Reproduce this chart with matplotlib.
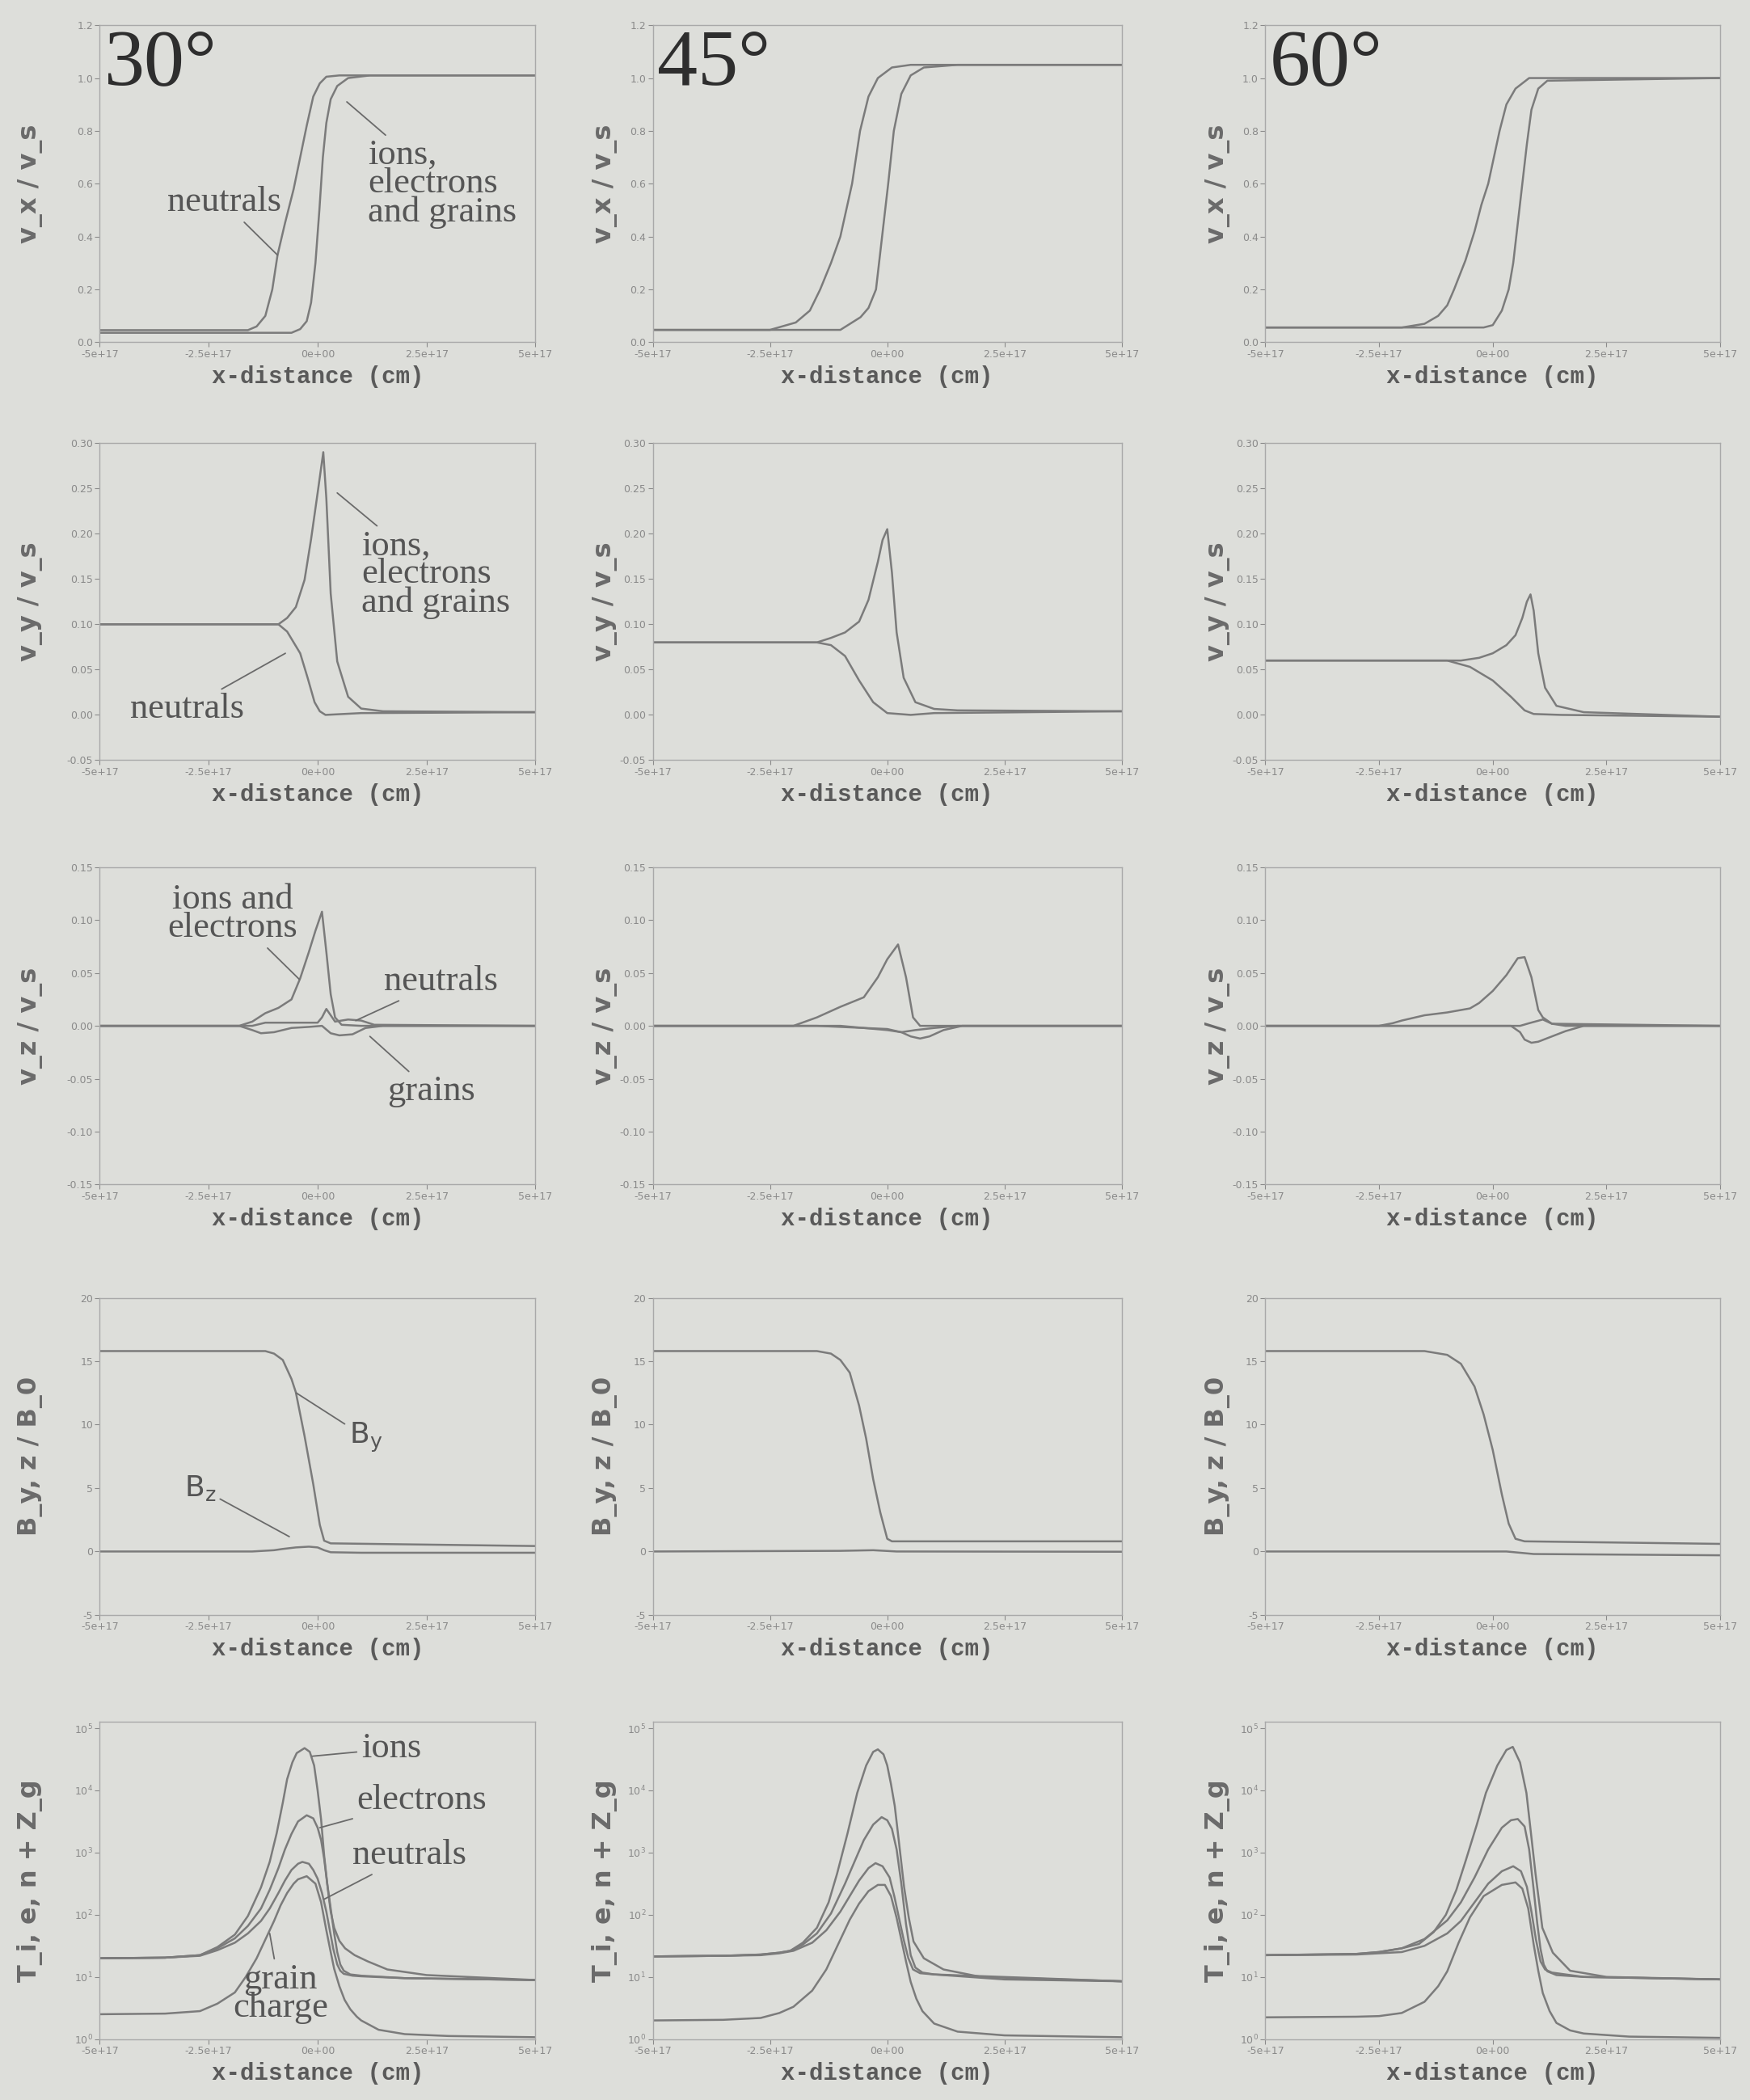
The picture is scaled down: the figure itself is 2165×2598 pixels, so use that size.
import matplotlib.pyplot as plt
import numpy as np
from matplotlib.ticker import NullLocator

# x positions below are in units of 1e17 cm
SCALE = 1e17

angles = ["30°", "45°", "60°"]
x_ticks = [-5, -2.5, 0, 2.5, 5]
x_tick_labels = ["-5e+17", "-2.5e+17", "0e+00", "2.5e+17", "5e+17"]

# ---------- row 1 : v_x / v_s ----------
vx30_neu_x = [-5, -1.6, -1.4, -1.2, -1.04, -0.92, -0.75, -0.55, -0.4, -0.25, -0.1, 0.05, 0.2, 0.5, 5]
vx30_neu_y = [0.046, 0.046, 0.06, 0.10, 0.2, 0.33, 0.45, 0.58, 0.70, 0.82, 0.93, 0.98, 1.005, 1.01, 1.01]
vx30_ion_x = [-5, -0.6, -0.4, -0.25, -0.15, -0.05, 0.04, 0.12, 0.2, 0.3, 0.45, 0.7, 1.2, 5]
vx30_ion_y = [0.036, 0.036, 0.05, 0.08, 0.15, 0.30, 0.50, 0.70, 0.83, 0.92, 0.97, 1.0, 1.01, 1.01]

vx45_neu_x = [-5, -2.5, -1.95, -1.65, -1.43, -1.2, -1.0, -0.75, -0.58, -0.4, -0.2, 0.1, 0.5, 5]
vx45_neu_y = [0.047, 0.047, 0.075, 0.12, 0.2, 0.3, 0.4, 0.6, 0.8, 0.93, 1.0, 1.04, 1.05, 1.05]
vx45_ion_x = [-5, -1.0, -0.57, -0.4, -0.24, -0.11, 0.02, 0.14, 0.3, 0.5, 0.78, 1.5, 5]
vx45_ion_y = [0.047, 0.047, 0.095, 0.13, 0.2, 0.4, 0.6, 0.8, 0.94, 1.01, 1.04, 1.05, 1.05]

vx60_neu_x = [-5, -2.0, -1.5, -1.2, -1.0, -0.85, -0.6, -0.4, -0.25, -0.1, 0.05, 0.15, 0.3, 0.5, 0.8, 5]
vx60_neu_y = [0.056, 0.056, 0.07, 0.10, 0.14, 0.20, 0.31, 0.42, 0.52, 0.60, 0.72, 0.80, 0.90, 0.96, 1.0, 1.0]
vx60_ion_x = [-5, -0.2, 0.0, 0.2, 0.35, 0.45, 0.55, 0.65, 0.75, 0.85, 1.0, 1.2, 5]
vx60_ion_y = [0.056, 0.056, 0.065, 0.12, 0.2, 0.3, 0.45, 0.6, 0.75, 0.88, 0.96, 0.99, 1.0]

# ---------- row 2 : v_y / v_s ----------
vy30_ion_x = [-5, -0.9, -0.7, -0.5, -0.3, -0.15, 0.0, 0.13, 0.2, 0.3, 0.45, 0.7, 1.0, 1.5, 5]
vy30_ion_y = [0.10, 0.10, 0.107, 0.119, 0.149, 0.194, 0.245, 0.29, 0.239, 0.134, 0.059, 0.020, 0.007, 0.004, 0.003]
vy30_neu_x = [-5, -0.9, -0.7, -0.55, -0.4, -0.23, -0.07, 0.05, 0.18, 1.0, 5]
vy30_neu_y = [0.10, 0.10, 0.092, 0.080, 0.068, 0.041, 0.014, 0.004, 0.0, 0.002, 0.003]

vy45_ion_x = [-5, -1.5, -1.2, -0.9, -0.6, -0.4, -0.2, -0.1, 0.0, 0.1, 0.2, 0.35, 0.6, 1.0, 1.5, 5]
vy45_ion_y = [0.08, 0.08, 0.085, 0.091, 0.103, 0.127, 0.169, 0.193, 0.205, 0.157, 0.091, 0.041, 0.014, 0.0066, 0.005, 0.004]
vy45_neu_x = [-5, -1.5, -1.2, -0.9, -0.6, -0.3, 0.0, 0.5, 1.0, 5]
vy45_neu_y = [0.08, 0.08, 0.077, 0.065, 0.038, 0.014, 0.002, 0.0, 0.002, 0.004]

vy60_ion_x = [-5, -1.0, -0.7, -0.3, 0.0, 0.3, 0.5, 0.65, 0.75, 0.83, 0.9, 1.0, 1.15, 1.4, 2.0, 5]
vy60_ion_y = [0.06, 0.06, 0.060, 0.063, 0.068, 0.077, 0.088, 0.107, 0.125, 0.133, 0.115, 0.068, 0.030, 0.010, 0.003, -0.002]
vy60_neu_x = [-5, -1.0, -0.5, 0.0, 0.4, 0.7, 0.9, 1.5, 5]
vy60_neu_y = [0.06, 0.06, 0.053, 0.038, 0.020, 0.005, 0.001, 0.0, -0.002]

# ---------- row 3 : v_z / v_s ----------
vz30_ion_x = [-5, -1.8, -1.5, -1.2, -0.9, -0.6, -0.4, -0.2, -0.05, 0.1, 0.2, 0.3, 0.4, 0.55, 1.0, 5]
vz30_ion_y = [0, 0, 0.004, 0.012, 0.017, 0.025, 0.045, 0.07, 0.09, 0.108, 0.07, 0.03, 0.008, 0.001, 0, 0]
vz30_neu_x = [-5, -1.5, -1.2, -0.6, 0.0, 0.1, 0.2, 0.3, 0.4, 0.7, 1.0, 1.3, 5]
vz30_neu_y = [0, 0, 0.003, 0.003, 0.003, 0.008, 0.016, 0.01, 0.004, 0.006, 0.005, 0.001, 0]
vz30_grn_x = [-5, -1.8, -1.5, -1.3, -1.0, -0.6, -0.2, 0.1, 0.3, 0.5, 0.8, 1.1, 1.5, 5]
vz30_grn_y = [0, 0, -0.004, -0.007, -0.006, -0.002, -0.001, 0.0, -0.007, -0.009, -0.008, -0.002, 0, 0]

vz45_ion_x = [-5, -2.0, -1.5, -1.0, -0.5, -0.2, 0.0, 0.23, 0.4, 0.55, 0.7, 5]
vz45_ion_y = [0, 0, 0.008, 0.018, 0.027, 0.046, 0.063, 0.077, 0.046, 0.008, 0, 0]
vz45_neu_x = [-5, -1.0, -0.5, 0.0, 0.3, 0.6, 1.0, 1.5, 5]
vz45_neu_y = [0, 0, -0.002, -0.004, -0.006, -0.004, -0.002, 0, 0]
vz45_grn_x = [-5, -1.5, -0.5, 0.0, 0.3, 0.5, 0.7, 0.9, 1.2, 1.6, 5]
vz45_grn_y = [0, 0, -0.002, -0.003, -0.006, -0.010, -0.012, -0.010, -0.004, 0, 0]

vz60_ion_x = [-5, -2.5, -2.2, -2.0, -1.5, -1.0, -0.5, -0.3, 0.0, 0.3, 0.55, 0.7, 0.85, 1.0, 1.1, 1.3, 5]
vz60_ion_y = [0, 0, 0.0025, 0.005, 0.010, 0.0127, 0.0165, 0.0216, 0.033, 0.048, 0.064, 0.065, 0.046, 0.015, 0.008, 0.002, 0]
vz60_neu_x = [-5, 0.6, 0.8, 1.1, 1.3, 1.6, 5]
vz60_neu_y = [0, 0, 0.0025, 0.006, 0.002, 0, 0]
vz60_grn_x = [-5, 0.4, 0.6, 0.7, 0.85, 1.0, 1.3, 1.6, 2.0, 5]
vz60_grn_y = [0, 0, -0.006, -0.013, -0.016, -0.015, -0.010, -0.005, 0, 0]

# ---------- row 4 : B_y, B_z / B_0 ----------
b30_y_x = [-5, -1.2, -1.0, -0.8, -0.6, -0.5, -0.3, -0.1, 0.05, 0.15, 0.3, 5]
b30_y_v = [15.8, 15.8, 15.6, 15.1, 13.6, 12.55, 9.1, 5.3, 2.1, 0.85, 0.64, 0.43]
b30_z_x = [-5, -1.5, -1.0, -0.8, -0.5, -0.2, 0.0, 0.15, 0.3, 1.0, 5]
b30_z_v = [0, 0, 0.1, 0.2, 0.32, 0.38, 0.32, 0.1, -0.06, -0.1, -0.1]

b45_y_x = [-5, -1.5, -1.2, -1.0, -0.8, -0.6, -0.45, -0.3, -0.15, 0.0, 0.1, 5]
b45_y_v = [15.8, 15.8, 15.6, 15.1, 14.1, 11.5, 8.9, 5.7, 3.1, 1.0, 0.8, 0.8]
b45_z_x = [-5, -1.0, -0.3, 0.2, 5]
b45_z_v = [0, 0.05, 0.1, 0.0, -0.02]

b60_y_x = [-5, -1.5, -1.0, -0.7, -0.4, -0.2, 0.0, 0.2, 0.35, 0.5, 0.7, 5]
b60_y_v = [15.8, 15.8, 15.5, 14.8, 13.0, 10.8, 8.0, 4.5, 2.2, 1.0, 0.8, 0.6]
b60_z_x = [-5, 0.3, 0.6, 0.9, 5]
b60_z_v = [0, 0, -0.1, -0.2, -0.3]

# ---------- row 5 : log10 of T_i, T_e, T_n and Z_g ----------
t30_ion_x = [-5, -3.5, -2.7, -2.3, -1.9, -1.6, -1.3, -1.1, -0.94, -0.8, -0.7, -0.58, -0.48, -0.3, -0.18, -0.08,
             0.0, 0.08, 0.15, 0.23, 0.3, 0.38, 0.5, 0.63, 0.85, 1.15, 1.6, 2.5, 5]
t30_ion_lg = [1.30, 1.31, 1.35, 1.48, 1.68, 1.98, 2.44, 2.85, 3.31, 3.8, 4.18, 4.45, 4.6, 4.68, 4.62, 4.4,
              4.0, 3.53, 2.95, 2.44, 2.05, 1.79, 1.58, 1.46, 1.35, 1.25, 1.12, 1.03, 0.95]
t30_ele_x = [-5, -3.5, -2.7, -2.3, -1.9, -1.6, -1.3, -1.1, -0.9, -0.75, -0.6, -0.45, -0.25, -0.1, 0.0, 0.08,
             0.15, 0.22, 0.3, 0.38, 0.45, 0.52, 0.6, 0.75, 1.0, 2.0, 5]
t30_ele_lg = [1.30, 1.31, 1.35, 1.46, 1.62, 1.82, 2.1, 2.4, 2.75, 3.05, 3.3, 3.5, 3.6, 3.55, 3.4, 3.2,
              2.9, 2.5, 2.1, 1.7, 1.4, 1.2, 1.1, 1.04, 1.02, 0.98, 0.95]
t30_neu_x = [-5, -3.5, -2.7, -2.3, -1.9, -1.6, -1.3, -1.1, -0.9, -0.75, -0.6, -0.45, -0.35, -0.2, -0.1, 0.0,
             0.1, 0.2, 0.28, 0.36, 0.45, 0.52, 0.6, 0.8, 1.0, 2.0, 5]
t30_neu_lg = [1.30, 1.31, 1.34, 1.43, 1.55, 1.7, 1.9, 2.1, 2.35, 2.55, 2.72, 2.82, 2.85, 2.82, 2.72, 2.58,
              2.35, 2.05, 1.75, 1.45, 1.2, 1.1, 1.05, 1.02, 1.01, 0.98, 0.95]
t30_grn_x = [-5, -3.5, -2.7, -2.3, -1.9, -1.65, -1.4, -1.2, -1.0, -0.85, -0.7, -0.55, -0.45, -0.25, -0.05,
             0.08, 0.2, 0.3, 0.38, 0.5, 0.62, 0.75, 0.9, 1.0, 1.4, 2.0, 3.0, 5]
t30_grn_lg = [0.40, 0.41, 0.45, 0.57, 0.75, 1.0, 1.3, 1.6, 1.9, 2.15, 2.35, 2.5, 2.57, 2.62, 2.5,
              2.2, 1.75, 1.4, 1.13, 0.85, 0.63, 0.48, 0.36, 0.3, 0.15, 0.08, 0.05, 0.03]

t45_ion_x = [-5, -3.5, -2.7, -2.3, -2.07, -1.8, -1.5, -1.25, -1.07, -0.85, -0.64, -0.45, -0.3, -0.2, -0.08,
             0.0, 0.08, 0.16, 0.26, 0.36, 0.46, 0.56, 0.78, 1.2, 2.0, 5]
t45_ion_lg = [1.33, 1.34, 1.36, 1.39, 1.42, 1.55, 1.79, 2.2, 2.66, 3.3, 3.96, 4.4, 4.62, 4.66, 4.58,
              4.4, 4.1, 3.75, 3.1, 2.44, 1.95, 1.57, 1.3, 1.12, 1.0, 0.93]
t45_ele_x = [-5, -3.5, -2.7, -2.3, -2.07, -1.8, -1.5, -1.2, -0.9, -0.7, -0.5, -0.3, -0.12, 0.0, 0.1, 0.2,
             0.3, 0.4, 0.5, 0.6, 0.75, 1.0, 2.5, 5]
t45_ele_lg = [1.33, 1.34, 1.36, 1.39, 1.42, 1.52, 1.7, 2.02, 2.5, 2.85, 3.2, 3.45, 3.57, 3.52, 3.38, 3.05,
              2.5, 1.85, 1.35, 1.15, 1.07, 1.04, 0.96, 0.93]
t45_neu_x = [-5, -3.5, -2.7, -2.3, -2.0, -1.6, -1.3, -1.0, -0.8, -0.6, -0.4, -0.25, -0.1, 0.05, 0.15, 0.25,
             0.35, 0.45, 0.55, 0.7, 1.0, 5]
t45_neu_lg = [1.33, 1.34, 1.35, 1.38, 1.42, 1.55, 1.75, 2.05, 2.3, 2.55, 2.75, 2.83, 2.78, 2.6, 2.3, 1.95,
              1.6, 1.3, 1.12, 1.06, 1.04, 0.93]
t45_grn_x = [-5, -3.5, -2.7, -2.3, -2.0, -1.6, -1.3, -1.0, -0.8, -0.6, -0.4, -0.2, -0.05, 0.08, 0.2, 0.3,
             0.4, 0.5, 0.62, 0.75, 1.0, 1.5, 2.5, 5]
t45_grn_lg = [0.30, 0.31, 0.34, 0.42, 0.52, 0.78, 1.12, 1.6, 1.92, 2.18, 2.38, 2.48, 2.48, 2.3, 1.95, 1.6,
              1.25, 0.92, 0.65, 0.45, 0.25, 0.12, 0.06, 0.03]

t60_ion_x = [-5, -3.0, -2.5, -2.0, -1.62, -1.3, -1.03, -0.8, -0.59, -0.35, -0.15, 0.1, 0.3, 0.44, 0.6, 0.74,
             0.94, 1.09, 1.32, 1.7, 2.5, 5]
t60_ion_lg = [1.35, 1.37, 1.4, 1.46, 1.53, 1.72, 2.0, 2.4, 2.88, 3.45, 3.96, 4.4, 4.65, 4.7, 4.45, 3.96,
              2.66, 1.79, 1.39, 1.1, 1.0, 0.96]
t60_ele_x = [-5, -3.0, -2.5, -2.0, -1.5, -1.0, -0.7, -0.4, -0.1, 0.2, 0.4, 0.55, 0.7, 0.8, 0.9, 0.98,
             1.05, 1.12, 1.2, 1.4, 2.0, 5]
t60_ele_lg = [1.35, 1.37, 1.4, 1.46, 1.61, 1.91, 2.2, 2.6, 3.05, 3.4, 3.52, 3.54, 3.42, 3.05, 2.4, 1.85,
              1.45, 1.2, 1.09, 1.03, 1.0, 0.96]
t60_neu_x = [-5, -3.0, -2.5, -2.0, -1.5, -1.0, -0.7, -0.4, -0.1, 0.2, 0.45, 0.62, 0.75, 0.85, 0.95, 1.05,
             1.15, 1.3, 2.0, 5]
t60_neu_lg = [1.35, 1.36, 1.38, 1.40, 1.5, 1.7, 1.9, 2.2, 2.5, 2.7, 2.78, 2.7, 2.45, 2.05, 1.6, 1.25,
              1.12, 1.07, 1.0, 0.96]
t60_grn_x = [-5, -3.0, -2.5, -2.0, -1.5, -1.2, -1.0, -0.75, -0.5, -0.2, 0.2, 0.5, 0.65, 0.78, 0.9, 1.0,
             1.1, 1.25, 1.4, 1.7, 2.0, 3.0, 5]
t60_grn_lg = [0.35, 0.36, 0.37, 0.42, 0.6, 0.85, 1.09, 1.55, 1.96, 2.3, 2.48, 2.52, 2.42, 2.1, 1.52, 1.1,
              0.74, 0.45, 0.26, 0.14, 0.09, 0.04, 0.02]

# ---------- styling ----------
BG = '#dddeda'
LINE = '#7b7b7b'
TXT = '#555555'
SERIF = 'Liberation Serif'

fig = plt.figure(figsize=(21.65, 25.98), dpi=100, facecolor=BG)

col_left = [0.057, 0.373, 0.723]
col_width = [0.249, 0.268, 0.260]
ylabel_x = [-0.13, -0.075, -0.077]
row_bottom = [0.837, 0.638, 0.436, 0.231, 0.029]
row_height = 0.151

rows = [
    dict(ylabel='v_x / v_s', ylim=(0, 1.2), yticks=[0, 0.2, 0.4, 0.6, 0.8, 1.0, 1.2],
         ylabels=['0.0', '0.2', '0.4', '0.6', '0.8', '1.0', '1.2'],
         curves=[[(vx30_neu_x, vx30_neu_y), (vx30_ion_x, vx30_ion_y)],
                 [(vx45_neu_x, vx45_neu_y), (vx45_ion_x, vx45_ion_y)],
                 [(vx60_neu_x, vx60_neu_y), (vx60_ion_x, vx60_ion_y)]]),
    dict(ylabel='v_y / v_s', ylim=(-0.05, 0.30), yticks=[-0.05, 0, 0.05, 0.10, 0.15, 0.20, 0.25, 0.30],
         ylabels=['-0.05', '0.00', '0.05', '0.10', '0.15', '0.20', '0.25', '0.30'],
         curves=[[(vy30_ion_x, vy30_ion_y), (vy30_neu_x, vy30_neu_y)],
                 [(vy45_ion_x, vy45_ion_y), (vy45_neu_x, vy45_neu_y)],
                 [(vy60_ion_x, vy60_ion_y), (vy60_neu_x, vy60_neu_y)]]),
    dict(ylabel='v_z / v_s', ylim=(-0.15, 0.15), yticks=[-0.15, -0.10, -0.05, 0, 0.05, 0.10, 0.15],
         ylabels=['-0.15', '-0.10', '-0.05', '0.00', '0.05', '0.10', '0.15'],
         curves=[[(vz30_ion_x, vz30_ion_y), (vz30_neu_x, vz30_neu_y), (vz30_grn_x, vz30_grn_y)],
                 [(vz45_ion_x, vz45_ion_y), (vz45_neu_x, vz45_neu_y), (vz45_grn_x, vz45_grn_y)],
                 [(vz60_ion_x, vz60_ion_y), (vz60_neu_x, vz60_neu_y), (vz60_grn_x, vz60_grn_y)]]),
    dict(ylabel='B_y, z / B_0', ylim=(-5, 20), yticks=[-5, 0, 5, 10, 15, 20],
         ylabels=['-5', '0', '5', '10', '15', '20'],
         curves=[[(b30_y_x, b30_y_v), (b30_z_x, b30_z_v)],
                 [(b45_y_x, b45_y_v), (b45_z_x, b45_z_v)],
                 [(b60_y_x, b60_y_v), (b60_z_x, b60_z_v)]]),
    dict(ylabel='T_i, e, n + Z_g', ylim=(1, 10 ** 5.1), yticks=[10.0 ** k for k in range(6)],
         ylabels=['$10^{%d}$' % k for k in range(6)], log=True,
         curves=[[(t30_ion_x, t30_ion_lg), (t30_ele_x, t30_ele_lg), (t30_neu_x, t30_neu_lg), (t30_grn_x, t30_grn_lg)],
                 [(t45_ion_x, t45_ion_lg), (t45_ele_x, t45_ele_lg), (t45_neu_x, t45_neu_lg), (t45_grn_x, t45_grn_lg)],
                 [(t60_ion_x, t60_ion_lg), (t60_ele_x, t60_ele_lg), (t60_neu_x, t60_neu_lg), (t60_grn_x, t60_grn_lg)]]),
]

axes = {}
for r, row in enumerate(rows):
    for c in range(3):
        ax = fig.add_axes([col_left[c], row_bottom[r], col_width[c], row_height])
        axes[(r, c)] = ax
        ax.set_facecolor(BG)
        for xs, ys in row['curves'][c]:
            xv = np.array(xs) * SCALE
            yv = 10.0 ** np.array(ys) if row.get('log') else np.array(ys)
            ax.plot(xv, yv, color=LINE, lw=1.8, solid_joinstyle='round')
        if row.get('log'):
            ax.set_yscale('log')
            ax.yaxis.set_minor_locator(NullLocator())
        ax.set_xlim(-5 * SCALE, 5 * SCALE)
        ax.set_ylim(*row['ylim'])
        ax.set_xticks([t * SCALE for t in x_ticks])
        ax.set_xticklabels(x_tick_labels)
        ax.set_yticks(row['yticks'])
        ax.set_yticklabels(row['ylabels'])
        ax.tick_params(labelsize=9, colors='#8a8a8a', length=4, width=0.8, pad=2)
        for s in ax.spines.values():
            s.set_color('#a9a9a9')
            s.set_linewidth(1.0)
        ax.set_ylabel(row['ylabel'], fontsize=23, fontweight='bold', color='#6a6a6a',
                      family='DejaVu Sans')
        ax.yaxis.set_label_coords(ylabel_x[c], 0.5)
        ax.set_xlabel('x-distance (cm)', fontsize=21, fontweight='bold', color='#5a5a5a',
                      family='Liberation Mono', labelpad=5)

# angle labels
for c in range(3):
    axes[(0, c)].text(0.01, 0.99, angles[c], transform=axes[(0, c)].transAxes, ha='left', va='top',
                      fontsize=72, family=SERIF, color='#2e2e2e')


def note(ax, text, xytext, xy, ha='center', log=False, fs=32, **kw):
    tx, ty = xytext
    px, py = xy
    if log:
        ty, py = 10 ** ty, 10 ** py
    ax.annotate(text, xy=(px * SCALE, py), xytext=(tx * SCALE, ty), ha=ha, va='center',
                fontsize=fs, color=TXT, linespacing=0.85, **kw,
                arrowprops=dict(arrowstyle='-', color='#6a6a6a', lw=1.3, shrinkA=2, shrinkB=0))


ser = dict(family=SERIF)
note(axes[(0, 0)], 'neutrals', (-2.15, 0.53), (-0.92, 0.33), **ser)
note(axes[(0, 0)], 'ions,\nelectrons\nand grains', (1.15, 0.60), (0.67, 0.91), ha='left', **ser)
note(axes[(1, 0)], 'ions,\nelectrons\nand grains', (1.0, 0.155), (0.45, 0.245), ha='left', **ser)
note(axes[(1, 0)], 'neutrals', (-3.0, 0.007), (-0.74, 0.068), **ser)
note(axes[(2, 0)], 'ions and\nelectrons', (-1.95, 0.106), (-0.42, 0.044), **ser)
note(axes[(2, 0)], 'neutrals', (2.83, 0.042), (0.875, 0.005), **ser)
note(axes[(2, 0)], 'grains', (2.6, -0.062), (1.2, -0.01), **ser)
note(axes[(3, 0)], r'B$_{\mathrm{y}}$', (1.1, 9.0), (-0.49, 12.5), fs=26, family='DejaVu Sans')
note(axes[(3, 0)], r'B$_{\mathrm{z}}$', (-2.7, 5.0), (-0.65, 1.17), fs=26, family='DejaVu Sans')
note(axes[(4, 0)], 'ions', (1.0, 4.67), (-0.12, 4.55), ha='left', log=True, **ser)
note(axes[(4, 0)], 'electrons', (0.9, 3.85), (0.05, 3.4), ha='left', log=True, **ser)
note(axes[(4, 0)], 'neutrals', (0.8, 2.96), (0.15, 2.25), ha='left', log=True, **ser)
note(axes[(4, 0)], 'grain\ncharge', (-0.85, 0.73), (-1.1, 1.7), log=True, **ser)

fig.savefig('out.png', dpi=100, facecolor=BG)
